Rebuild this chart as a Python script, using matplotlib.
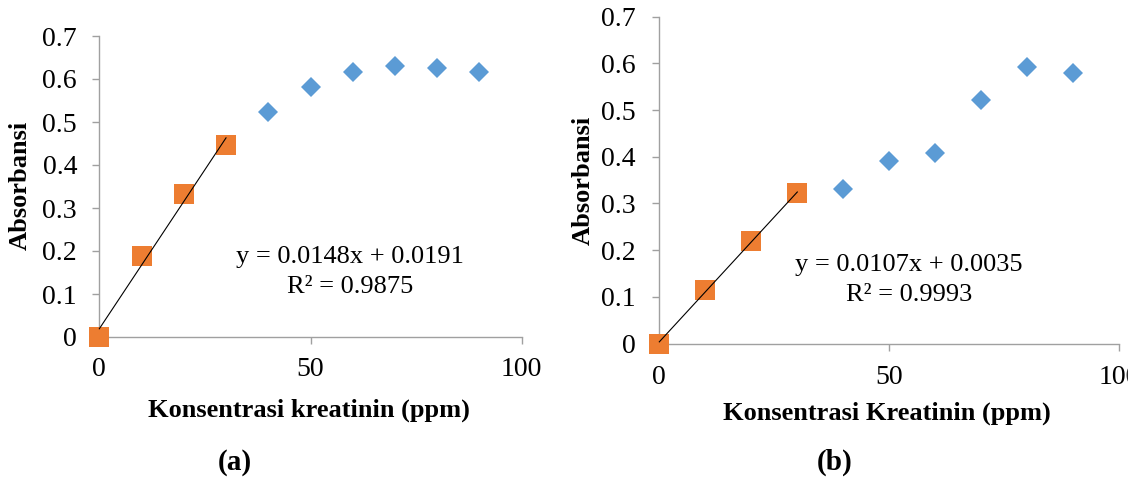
import numpy as np
import matplotlib
matplotlib.use('Agg')
import matplotlib.pyplot as plt
from matplotlib.patches import Rectangle

plt.rcParams['font.family'] = ['Liberation Serif', 'DejaVu Serif']

# panel (a)
conc_a_lin = [0, 10, 20, 30]
abs_a_lin = [0.0, 0.188, 0.332, 0.446]
conc_a_rest = [40, 50, 60, 70, 80, 90]
abs_a_rest = [0.523, 0.581, 0.616, 0.631, 0.625, 0.616]
slope_a, icpt_a, r2_a = 0.0148, 0.0191, 0.9875

# panel (b)
conc_b_lin = [0, 10, 20, 30]
abs_b_lin = [0.0, 0.115, 0.219, 0.323]
conc_b_rest = [40, 50, 60, 70, 80, 90]
abs_b_rest = [0.332, 0.391, 0.408, 0.521, 0.592, 0.580]
slope_b, icpt_b, r2_b = 0.0107, 0.0035, 0.9993

yticks = [0, 0.1, 0.2, 0.3, 0.4, 0.5, 0.6, 0.7]
yticklabels = ['0', '0.1', '0.2', '0.3', '0.4', '0.5', '0.6', '0.7']
xticks = [0, 50, 100]

W, H = 1142, 479
orange = '#ED7D31'
blue = '#5B9BD5'
grey = '#a0a0a0'

fig = plt.figure(figsize=(W/100, H/100), dpi=100)


def px_axes(x0, x1, ytop, ybot):
    return fig.add_axes([x0/W, 1-ybot/H, (x1-x0)/W, (ybot-ytop)/H])


def ftext(x, y, s, **kw):
    fig.text(x/W, 1-y/H, s, ha='center', va='center', **kw)


def panel(ax, xl, yl, xr, yr, slope, icpt, r2, xpad, ypad):
    ax.plot(xr, yr, 'D', color=blue, ms=9.8, mew=0, clip_on=False, zorder=3)
    ax.plot(xl, yl, 's', color=orange, ms=14.4, mew=0, clip_on=False, zorder=3)
    xx = np.array([0, 30])
    ax.plot(xx, slope*xx+icpt, color='k', lw=0.8, zorder=4, clip_on=False)
    ax.set_xlim(0, 100)
    ax.set_ylim(0, 0.7)
    ax.set_xticks(xticks)
    ax.set_yticks(yticks)
    ax.set_yticklabels(yticklabels)
    for s in ['top', 'right']:
        ax.spines[s].set_visible(False)
    for s in ['left', 'bottom']:
        ax.spines[s].set_color(grey)
        ax.spines[s].set_linewidth(1.0)
    ax.tick_params(axis='both', colors=grey, labelcolor='k', labelsize=20,
                   length=5, width=1.0)
    ax.tick_params(axis='x', pad=xpad)
    ax.tick_params(axis='y', pad=ypad)
    ax.patch.set_alpha(0)


axa = px_axes(99.3, 521.7, 36, 337)
panel(axa, conc_a_lin, abs_a_lin, conc_a_rest, abs_a_rest, slope_a, icpt_a, r2_a, 9.5, 11)
axb = px_axes(659.3, 1119.3, 16.7, 343.5)
panel(axb, conc_b_lin, abs_b_lin, conc_b_rest, abs_b_rest, slope_b, icpt_b, r2_b, 10.5, 12)

ftext(350, 257, 'y = {}x + {}'.format(slope_a, icpt_a), fontsize=19)
ftext(350, 287, 'R² = {}'.format(r2_a), fontsize=19)
ftext(909, 265, 'y = {}x + {}'.format(slope_b, icpt_b), fontsize=19)
ftext(909, 295, 'R² = {}'.format(r2_b), fontsize=19)

ftext(309, 410, 'Konsentrasi kreatinin (ppm)', fontsize=19, fontweight='bold')
ftext(887, 413, 'Konsentrasi Kreatinin (ppm)', fontsize=19, fontweight='bold')
ftext(20, 185, 'Absorbansi', fontsize=19, fontweight='bold', rotation=90)
ftext(583, 180, 'Absorbansi', fontsize=19, fontweight='bold', rotation=90)
ftext(235, 463, '(a)', fontsize=21, fontweight='bold')
ftext(835, 462, '(b)', fontsize=21, fontweight='bold')

# the source picture is cropped just past the right panel
fig.patches.append(Rectangle((1128/W, 0), 1, 1, transform=fig.transFigure,
                             color='white', zorder=10))

fig.savefig('out.png', dpi=100)
